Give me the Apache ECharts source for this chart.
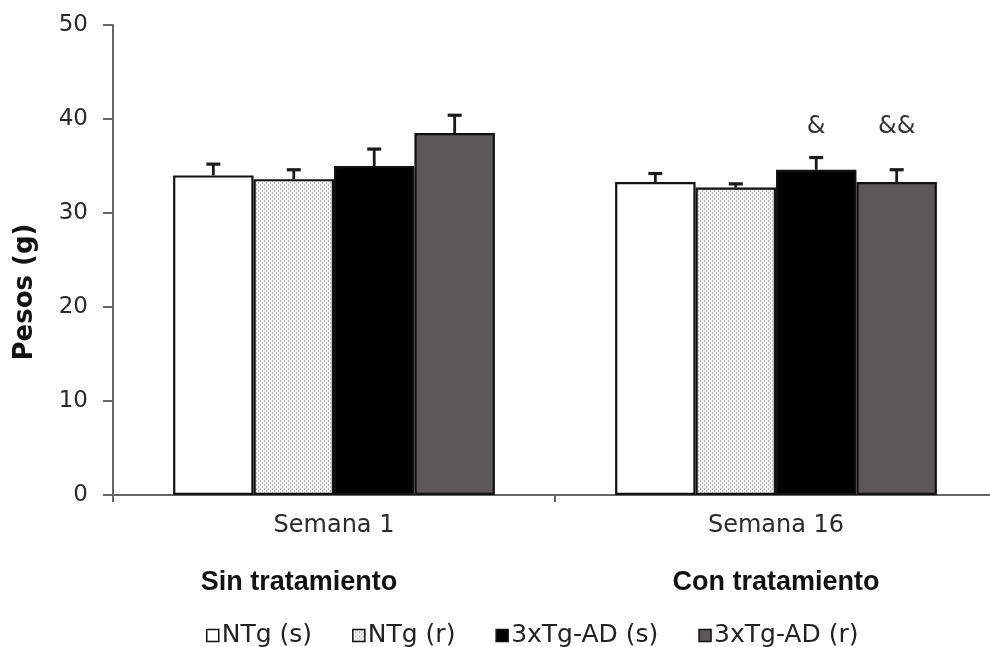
<!DOCTYPE html>
<html>
<head>
<meta charset="utf-8">
<script src="https://cdn.jsdelivr.net/npm/echarts@6/dist/echarts.min.js"></script>
<style>
  html, body { margin: 0; padding: 0; background: #fff; }
  #chart { width: 990px; height: 647px; }
</style>
</head>
<body>
<div id="chart"></div>
<script>
// Body weight per group, mean and SEM
const categories = ['Semana 1', 'Semana 16'];
const groupTitles = ['Sin tratamiento', 'Con tratamiento'];
const seriesNames = ['NTg (s)', 'NTg (r)', '3xTg-AD (s)', '3xTg-AD (r)'];

const ntgS = [34.0, 33.3];
const ntgR = [33.6, 32.7];
const tgS = [35.0, 34.6];
const tgR = [38.5, 33.3];

const ntgSErr = [1.2, 0.9];
const ntgRErr = [1.0, 0.4];
const tgSErr = [1.8, 1.3];
const tgRErr = [1.9, 1.3];

// Significance marks drawn above the bars
const ntgSMark = ['', ''];
const ntgRMark = ['', ''];
const tgSMark = ['', '&'];
const tgRMark = ['', '&&'];

const yTicks = [0, 10, 20, 30, 40, 50];

const means = [ntgS, ntgR, tgS, tgR];
const errs = [ntgSErr, ntgRErr, tgSErr, tgRErr];
const marks = [ntgSMark, ntgRMark, tgSMark, tgRMark];

const GAP = 0.272;          // category gap ratio
const MARK_LEVEL = 39.2;    // value level for the significance marks
const SANS = '"DejaVu Sans", sans-serif';
const ARIAL = '"Liberation Sans", Arial, sans-serif';

// Fine dotted fill for the NTg (r) bars
function dotPattern() {
  const c = document.createElement('canvas');
  c.width = 4; c.height = 4;
  const g = c.getContext('2d');
  g.fillStyle = '#f3f3f3';
  g.fillRect(0, 0, 4, 4);
  g.fillStyle = '#b5b5b5';
  g.fillRect(0, 0, 1, 2);
  g.fillRect(2, 2, 1, 2);
  return c;
}

const fills = ['#ffffff', { image: dotPattern(), repeat: 'repeat' }, '#000000', '#5d5757'];

const barSeries = seriesNames.map((name, s) => ({
  name: name,
  type: 'bar',
  data: means[s],
  barGap: '0%',
  barCategoryGap: (GAP * 100) + '%',
  itemStyle: { color: fills[s], borderColor: '#111', borderWidth: 2.2 },
  emphasis: { disabled: true }
}));

const errData = [];
const errMarks = [];
means.forEach((vals, s) => {
  vals.forEach((v, c) => {
    errData.push([c, v, errs[s][c], s]);
    errMarks.push(marks[s][c]);
  });
});

const errorSeries = {
  type: 'custom',
  name: 'error',
  z: 3,
  silent: true,
  data: errData,
  renderItem: function (params, api) {
    const c = api.value(0), m = api.value(1), e = api.value(2), s = api.value(3);
    const catW = api.size([1, 0])[0];
    const band = catW * (1 - GAP);
    const bw = band / seriesNames.length;
    const cx = api.coord([c, 0])[0] - band / 2 + bw * (s + 0.5);
    const yBase = api.coord([c, m])[1];
    const yTop = api.coord([c, m + e])[1];
    const children = [
      { type: 'line', shape: { x1: cx, y1: yBase, x2: cx, y2: yTop },
        style: { stroke: '#1a1a1a', lineWidth: 2.8 } },
      { type: 'line', shape: { x1: cx - 7, y1: yTop, x2: cx + 7, y2: yTop },
        style: { stroke: '#1a1a1a', lineWidth: 3.2 } }
    ];
    const mk = errMarks[params.dataIndex];
    if (mk) {
      const yMark = api.coord([c, MARK_LEVEL])[1];
      children.push({ type: 'text', x: cx, y: yMark,
        style: { text: mk, align: 'center', verticalAlign: 'middle',
          fill: '#333', font: '24px ' + SANS } });
    }
    return { type: 'group', children: children };
  }
};

const chart = echarts.init(document.getElementById('chart'), null, { renderer: 'canvas' });
chart.setOption({
  animation: false,
  backgroundColor: '#ffffff',
  grid: { left: 113, width: 884, top: 25, height: 470, containLabel: false, outerBoundsMode: 'none' },
  legend: {
    data: seriesNames,
    left: 201,
    top: 618,
    itemWidth: 12,
    itemHeight: 12,
    itemGap: 40,
    icon: 'rect',
    selectedMode: false,
    itemStyle: { borderColor: '#111', borderWidth: 1.5 },
    textStyle: { fontFamily: SANS, fontSize: 25, color: '#222', padding: [0, 0, 0, -2] }
  },
  xAxis: {
    type: 'category',
    data: categories,
    axisLine: { lineStyle: { color: '#666', width: 2 } },
    axisTick: { show: true, length: 7, lineStyle: { color: '#666', width: 2 } },
    axisLabel: { margin: 19, fontFamily: SANS, fontSize: 24, color: '#2a2a2a' }
  },
  yAxis: {
    type: 'value',
    min: yTicks[0],
    max: yTicks[yTicks.length - 1],
    interval: yTicks[1] - yTicks[0],
    splitLine: { show: false },
    axisLine: { show: true, lineStyle: { color: '#666', width: 2 } },
    axisTick: { show: true, length: 10, lineStyle: { color: '#666', width: 2 } },
    axisLabel: { margin: 25, fontFamily: SANS, fontSize: 23, color: '#2a2a2a' }
  },
  graphic: [
    { type: 'text', x: 25, y: 292, rotation: Math.PI / 2,
      style: { text: 'Pesos (g)', align: 'center', verticalAlign: 'middle',
        fill: '#111', font: 'bold 26px ' + SANS } },
    { type: 'text', x: 299, y: 583,
      style: { text: groupTitles[0], align: 'center', verticalAlign: 'middle',
        fill: '#111', font: 'bold 27px ' + ARIAL } },
    { type: 'text', x: 776, y: 583,
      style: { text: groupTitles[1], align: 'center', verticalAlign: 'middle',
        fill: '#111', font: 'bold 27px ' + ARIAL } }
  ],
  series: barSeries.concat([errorSeries])
});
</script>
</body>
</html>
